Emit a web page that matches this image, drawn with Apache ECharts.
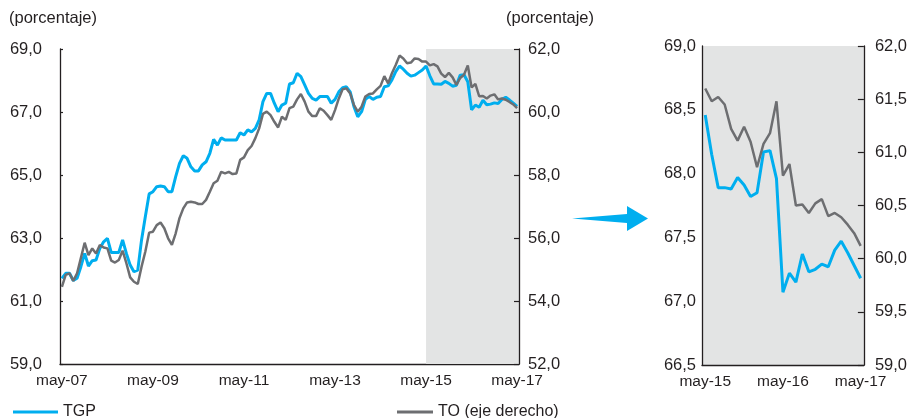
<!DOCTYPE html>
<html>
<head>
<meta charset="utf-8">
<script src="https://cdn.jsdelivr.net/npm/echarts@6/dist/echarts.min.js"></script>
<style>
  html, body { margin: 0; padding: 0; background: #fff; }
  #chart { width: 910px; height: 418px; }
</style>
</head>
<body>
<div id="chart"></div>
<script>
// meses may-07 .. may-17
const months = ['ene', 'feb', 'mar', 'abr', 'may', 'jun', 'jul', 'ago', 'sep', 'oct', 'nov', 'dic'];
const categories = [];
for (let y = 7; y <= 17; y++) {
  for (let m = 0; m < 12; m++) {
    if ((y === 7 && m < 4) || (y === 17 && m > 4)) continue;
    categories.push(months[m] + '-' + (y < 10 ? '0' + y : y));
  }
}

// TGP (eje izquierdo)
const tgp = [
  61.72, 61.88, 61.88, 61.65, 61.72, 62.09, 62.51, 62.11, 62.28, 62.30, 62.67, 62.88,
  62.99, 62.54, 62.54, 62.54, 62.94, 62.51, 62.14, 61.93, 61.98, 62.94, 63.68, 64.40,
  64.47, 64.63, 64.65, 64.63, 64.47, 64.47, 64.95, 65.37, 65.61, 65.53, 65.26, 65.13,
  65.13, 65.32, 65.42, 65.69, 66.13, 65.95, 66.18, 66.11, 66.11, 66.11, 66.11, 66.34,
  66.27, 66.43, 66.37, 66.48, 66.75, 67.33, 67.59, 67.59, 67.28, 67.01, 67.22, 67.28,
  67.89, 67.93, 68.23, 68.12, 67.86, 67.59, 67.43, 67.38, 67.49, 67.49, 67.49, 67.28,
  67.40, 67.64, 67.77, 67.80, 67.64, 67.17, 66.85, 67.01, 67.40, 67.49, 67.40, 67.47,
  67.49, 67.80, 67.83, 68.02, 68.28, 68.46, 68.36, 68.23, 68.14, 68.17, 68.25, 68.33,
  68.46, 68.15, 67.89, 67.89, 67.88, 67.97, 67.91, 67.82, 67.85, 68.17, 68.18, 67.96,
  67.07, 67.22, 67.15, 67.37, 67.23, 67.25, 67.29, 67.27, 67.40, 67.47, 67.38, 67.28,
  67.18
];

// TO (eje derecho)
const to = [
  54.45, 54.83, 54.88, 54.64, 54.88, 55.36, 55.85, 55.46, 55.67, 55.51, 55.78, 55.70,
  55.67, 55.28, 55.22, 55.30, 55.60, 55.20, 54.75, 54.61, 54.54, 55.09, 55.57, 56.17,
  56.20, 56.41, 56.49, 56.31, 55.99, 55.78, 56.15, 56.63, 56.94, 57.13, 57.15, 57.13,
  57.08, 57.08, 57.21, 57.47, 57.74, 57.82, 58.10, 58.05, 58.10, 58.03, 58.05, 58.48,
  58.56, 58.79, 58.92, 59.17, 59.48, 59.94, 60.01, 59.90, 59.69, 59.51, 59.85, 59.75,
  60.12, 60.17, 60.40, 60.57, 60.33, 60.01, 59.87, 59.87, 60.12, 60.04, 59.90, 59.75,
  60.06, 60.43, 60.72, 60.75, 60.59, 60.22, 60.01, 60.17, 60.49, 60.57, 60.59, 60.72,
  60.83, 61.14, 60.91, 61.23, 61.49, 61.79, 61.70, 61.55, 61.57, 61.70, 61.68, 61.60,
  61.60, 61.48, 61.52, 61.45, 61.22, 61.11, 61.24, 61.10, 60.86, 61.08, 61.18, 61.48,
  60.78, 60.89, 60.50, 60.51, 60.43, 60.52, 60.56, 60.40, 60.43, 60.39, 60.32, 60.24,
  60.12
];

const zoomStart = 'may-15';
const startIdx = categories.indexOf(zoomStart);
const zoomCats = categories.slice(startIdx);

const BLUE = '#00aeef';
const GREY = '#6d6e71';
const SHADE = '#e3e4e4';
const INK = '#231f20';
const FONT = '"Liberation Sans", Arial, Helvetica, sans-serif';

const fmt = v => v.toFixed(1).replace('.', ',');

function xAx(grid, data, tickEvery, labelEvery) {
  return {
    type: 'category', gridIndex: grid, data: data, boundaryGap: true,
    axisLine: { lineStyle: { color: INK, width: 1.3 } },
    axisTick: { inside: true, length: 7, interval: tickEvery, lineStyle: { color: INK, width: 1.2 } },
    axisLabel: { interval: labelEvery, color: INK, fontSize: 15.5, fontFamily: FONT, margin: 9 },
    splitLine: { show: false }
  };
}

function yAx(grid, pos, min, max, step, tick, margin) {
  return {
    type: 'value', gridIndex: grid, position: pos, min: min, max: max, interval: step,
    z: 3,
    axisLine: { show: true, onZero: false, lineStyle: { color: INK, width: 1.3 } },
    axisTick: { show: tick > 0, inside: true, length: tick, lineStyle: { color: INK, width: 1.2 } },
    axisLabel: { formatter: fmt, color: INK, fontSize: 16.5, fontFamily: FONT, margin: margin },
    splitLine: { show: false }
  };
}

const chart = echarts.init(document.getElementById('chart'));
chart.setOption({
  animation: false,
  backgroundColor: '#fff',
  textStyle: { fontFamily: FONT },
  title: [
    { text: '(porcentaje)', left: 4, top: 5, textStyle: { fontSize: 16.5, fontWeight: 'normal', color: INK, fontFamily: FONT } },
    { text: '(porcentaje)', left: 501, top: 5, textStyle: { fontSize: 16.5, fontWeight: 'normal', color: INK, fontFamily: FONT } }
  ],
  legend: [
    { data: ['TGP'], left: 8, top: 399, icon: 'rect', itemWidth: 45, itemHeight: 3, itemGap: 6,
      textStyle: { fontSize: 16, color: INK, fontFamily: FONT } },
    { data: ['TO (eje derecho)'], left: 392, top: 399, icon: 'rect', itemWidth: 36, itemHeight: 3, itemGap: 6,
      textStyle: { fontSize: 16, color: INK, fontFamily: FONT } }
  ],
  grid: [
    { left: 60, right: 391, top: 49, bottom: 54 },
    { left: 702, right: 46, top: 46, bottom: 53, show: true, backgroundColor: SHADE, borderWidth: 0 }
  ],
  xAxis: [
    xAx(0, categories, 23, 23),
    xAx(1, zoomCats, 5, 11)
  ],
  yAxis: [
    yAx(0, 'left', 59, 69, 2, 3, 18),
    yAx(0, 'right', 52, 62, 2, 5, 9),
    yAx(1, 'left', 66.5, 69, 0.5, 0, 6),
    yAx(1, 'right', 59, 62, 0.5, 6, 11)
  ],
  graphic: [
    {
      type: 'polygon',
      shape: { points: [[572, 218.5], [627, 214], [627, 206], [648, 218.5], [627, 231], [627, 223]] },
      style: { fill: BLUE }
    }
  ],
  series: [
    {
      name: 'TGP', type: 'line', xAxisIndex: 0, yAxisIndex: 0, data: tgp,
      showSymbol: false, symbol: 'none', z: 4,
      lineStyle: { color: BLUE, width: 3 }, itemStyle: { color: BLUE },
      markArea: {
        silent: true, z: 1,
        itemStyle: { color: SHADE },
        data: [[{ xAxis: zoomStart }, {}]]
      }
    },
    {
      name: 'TO (eje derecho)', type: 'line', xAxisIndex: 0, yAxisIndex: 1, data: to,
      showSymbol: false, symbol: 'none', z: 4,
      lineStyle: { color: GREY, width: 2.5 }, itemStyle: { color: GREY }
    },
    {
      name: 'TGP', type: 'line', xAxisIndex: 1, yAxisIndex: 2, data: tgp.slice(startIdx),
      showSymbol: false, symbol: 'none', z: 4,
      lineStyle: { color: BLUE, width: 3 }, itemStyle: { color: BLUE }
    },
    {
      name: 'TO (eje derecho)', type: 'line', xAxisIndex: 1, yAxisIndex: 3, data: to.slice(startIdx),
      showSymbol: false, symbol: 'none', z: 4,
      lineStyle: { color: GREY, width: 2.5 }, itemStyle: { color: GREY }
    }
  ]
});
</script>
</body>
</html>
